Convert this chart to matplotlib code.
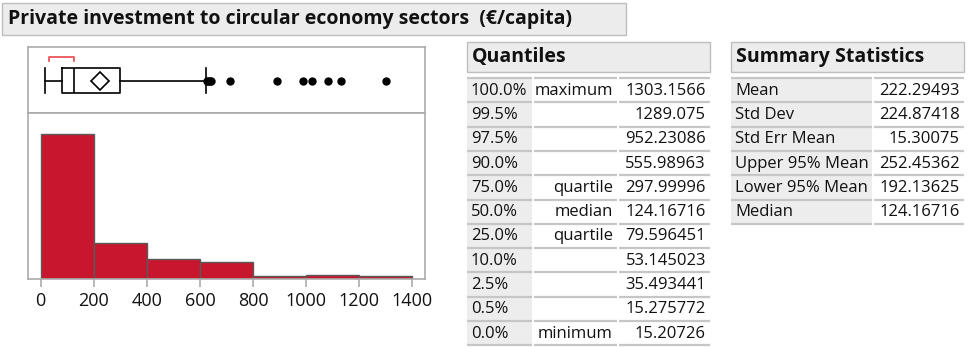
import matplotlib
matplotlib.use("Agg")
import matplotlib.pyplot as plt
from matplotlib.patches import Rectangle

plt.rcParams['font.family'] = ['Open Sans', 'DejaVu Sans']

# ---------------- data ----------------
title = "Private investment to circular economy sectors  (€/capita)"

bin_edges = [0, 200, 400, 600, 800, 1000, 1200, 1400]
bin_counts = [137, 34, 19, 16, 3, 4, 3]
x_ticks = [0, 200, 400, 600, 800, 1000, 1200, 1400]

box_min = 15.20726
box_q1 = 79.596451
box_median = 124.16716
box_q3 = 297.99996
box_mean = 222.29493
whisker_high = 621
outliers = [627, 631, 636, 641, 713, 889, 988, 1022, 1083, 1130, 1300]
shortest_half = [32, 127]

quantile_levels = ["100.0%", "99.5%", "97.5%", "90.0%", "75.0%", "50.0%",
                   "25.0%", "10.0%", "2.5%", "0.5%", "0.0%"]
quantile_names = ["maximum", "", "", "", "quartile", "median", "quartile",
                  "", "", "", "minimum"]
quantile_values = ["1303.1566", "1289.075", "952.23086", "555.98963",
                   "297.99996", "124.16716", "79.596451", "53.145023",
                   "35.493441", "15.275772", "15.20726"]

summary_names = ["Mean", "Std Dev", "Std Err Mean", "Upper 95% Mean",
                 "Lower 95% Mean", "Median"]
summary_values = ["222.29493", "224.87418", "15.30075", "252.45362",
                  "192.13625", "124.16716"]

# ---------------- figure ----------------
W, H = 969, 348
fig = plt.figure(figsize=(W / 100, H / 100), dpi=100)
bg = fig.add_axes([0, 0, 1, 1])
bg.set_xlim(0, W)
bg.set_ylim(H, 0)
bg.axis('off')

HDR_FC = '#ECECEC'
HDR_EC = '#BEBEBE'
CELL_GRAY = '#EDEDED'
LINE_C = '#C6C6C6'
PANEL_C = '#ABABAB'
TXT = '#111111'
FS = 12
HFS = 14


def px_axes(x0, y0, x1, y1):
    return fig.add_axes([x0 / W, 1 - y1 / H, (x1 - x0) / W, (y1 - y0) / H])


# title bar
bg.add_patch(Rectangle((2.5, 2.5), 624, 32, facecolor=HDR_FC, edgecolor=HDR_EC, lw=1))
bg.text(8, 19, title, fontsize=HFS, fontweight='bold', va='center', ha='left', color=TXT)

# ---------------- box plot panel ----------------
XL = (-48, 1448)
axb = px_axes(28, 47, 425, 113)
axb.set_xlim(*XL)
axb.set_ylim(66, 0)
axb.set_xticks([])
axb.set_yticks([])
for s in axb.spines.values():
    s.set_color(PANEL_C)
    s.set_linewidth(1.2)

stats = [dict(whislo=box_min, q1=box_q1, med=box_median, q3=box_q3,
              whishi=whisker_high, mean=box_mean, fliers=outliers)]
axb.bxp(stats, positions=[33.7], widths=25, capwidths=25, orientation='horizontal',
        showmeans=True, meanline=False, manage_ticks=False,
        boxprops=dict(color='black', lw=1.2),
        whiskerprops=dict(color='black', lw=1.2),
        capprops=dict(color='black', lw=1.2),
        medianprops=dict(color='black', lw=1.2),
        meanprops=dict(marker='D', markerfacecolor='white', markeredgecolor='black',
                       markersize=9, markeredgewidth=1.2),
        flierprops=dict(marker='o', markerfacecolor='black', markeredgecolor='black',
                        markersize=5))
axb.plot([shortest_half[0], shortest_half[0], shortest_half[1], shortest_half[1]],
         [13.7, 9.7, 9.7, 13.7], color='#E8474C', lw=1.2)

# ---------------- histogram panel ----------------
axh = px_axes(28, 113, 425, 279)
axh.set_xlim(*XL)
axh.set_ylim(0, 157)
widths = [b - a for a, b in zip(bin_edges[:-1], bin_edges[1:])]
axh.bar(bin_edges[:-1], bin_counts, width=widths, align='edge',
        color='#C8162E', edgecolor='#5a5a5a', lw=1)
for s in axh.spines.values():
    s.set_color(PANEL_C)
    s.set_linewidth(1.2)
axh.set_yticks([])
axh.set_xticks(x_ticks)
axh.set_xticklabels([str(t) for t in x_ticks])
axh.tick_params(axis='x', direction='out', length=5.5, width=1.2, color=PANEL_C,
                labelsize=13, labelcolor=TXT, pad=4)

# ---------------- tables ----------------
ROW_H = 24.3
ROW0 = 78


def draw_table(hx0, hx1, header, cols, columns_text, aligns):
    bg.add_patch(Rectangle((hx0, 41.5), hx1 - hx0, 30, facecolor=HDR_FC,
                           edgecolor=HDR_EC, lw=1))
    bg.text(hx0 + 5, 57, header, fontsize=HFS, fontweight='bold', va='center',
            ha='left', color=TXT)
    nrows = len(columns_text[0])
    for i in range(nrows):
        top = ROW0 + ROW_H * i
        x0, x1 = cols[0]
        bg.add_patch(Rectangle((x0, top), x1 - x0, ROW_H, facecolor=CELL_GRAY,
                               edgecolor='none'))
    for i in range(nrows + 1):
        top = ROW0 + ROW_H * i
        for (x0, x1) in cols:
            bg.plot([x0, x1], [top, top], color=LINE_C, lw=1.6, solid_capstyle='butt')
    for c, ((x0, x1), texts, al) in enumerate(zip(cols, columns_text, aligns)):
        for i, t in enumerate(texts):
            yc = ROW0 + ROW_H * i + ROW_H / 2 + 0.5
            if al == 'left':
                bg.text(x0 + 4, yc, t, fontsize=FS, va='center', ha='left', color=TXT)
            else:
                bg.text(x1 - 4, yc, t, fontsize=FS, va='center', ha='right', color=TXT)


draw_table(467, 710, "Quantiles",
           [(467, 532), (534, 617), (619, 710)],
           [quantile_levels, quantile_names, quantile_values],
           ['left', 'right', 'right'])

draw_table(731, 964, "Summary Statistics",
           [(731, 872), (874, 964)],
           [summary_names, summary_values],
           ['left', 'right'])

fig.savefig("out.png", dpi=100)
